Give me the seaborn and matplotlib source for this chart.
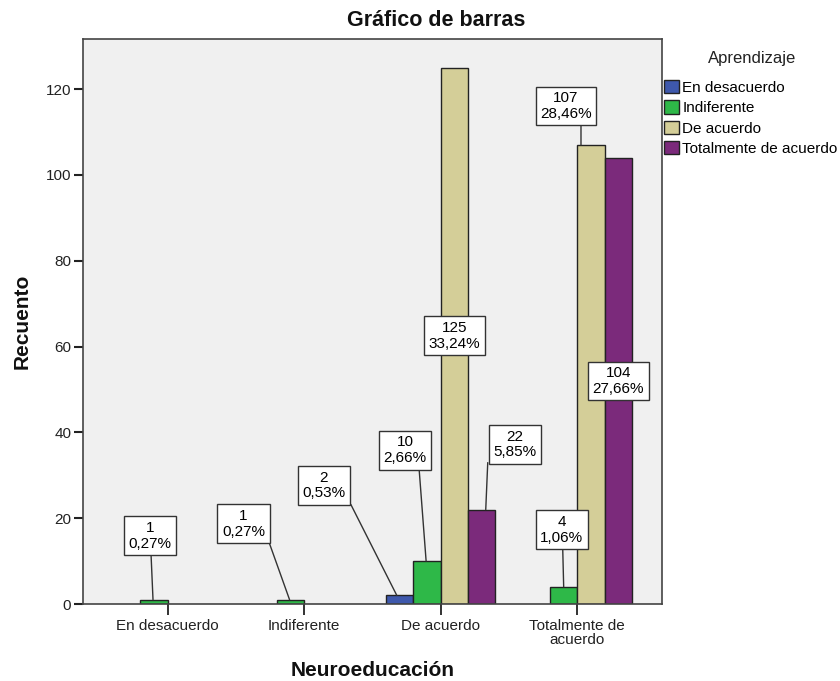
import matplotlib
matplotlib.use("Agg")
import matplotlib.pyplot as plt
import matplotlib.transforms as mtransforms
import seaborn as sns
import pandas as pd

# ---------------- data ----------------
categories = ["En desacuerdo", "Indiferente", "De acuerdo", "Totalmente de acuerdo"]
hue_levels = ["En desacuerdo", "Indiferente", "De acuerdo", "Totalmente de acuerdo"]
x_tick_labels = ["En desacuerdo", "Indiferente", "De acuerdo", "Totalmente de\nacuerdo"]

neuro = ["En desacuerdo", "Indiferente", "De acuerdo", "De acuerdo", "De acuerdo",
         "De acuerdo", "Totalmente de acuerdo", "Totalmente de acuerdo", "Totalmente de acuerdo"]
aprend = ["Indiferente", "Indiferente", "En desacuerdo", "Indiferente", "De acuerdo",
          "Totalmente de acuerdo", "Indiferente", "De acuerdo", "Totalmente de acuerdo"]
counts = [1, 1, 2, 10, 125, 22, 4, 107, 104]
y_ticks = [0, 20, 40, 60, 80, 100, 120]

# ---------------- style ----------------
colors = ["#3E58AC", "#2EB848", "#D4CE98", "#7B2A7B"]
W, H = 840, 681
# label layout in pixels relative to bar top centre:
# (box centre dx, dy, leader start dx, dy, leader end dx, dy) or "mid"
label_pos = {
    (0, 1): (-4, 64, -3, 46, -1, 0),
    (1, 1): (-47, 76, -21, 56, -1, 0),
    (2, 0): (-76, 110, -49, 91, -3, 0),
    (2, 1): (-22, 111, -8, 92, -1, 0),
    (2, 2): "mid",
    (2, 3): (33, 65, 6, 47, 4, 0),
    (3, 1): (-2, 57, -1, 40, 0, 0),
    (3, 2): (-25, 39, -10, 20, -10, 0),
    (3, 3): "mid",
}

plt.rcParams["font.family"] = ["Liberation Sans", "DejaVu Sans"]

df = pd.DataFrame({"Neuroeducación": neuro, "Aprendizaje": aprend, "Recuento": counts})
total = sum(counts)

fig = plt.figure(figsize=(W / 100, H / 100), dpi=100)
ax = fig.add_axes([83 / W, 77 / H, 579 / W, 565 / H])
ax.set_facecolor("#F0F0F0")

sns.barplot(data=df, x="Neuroeducación", y="Recuento", hue="Aprendizaje",
            order=categories, hue_order=hue_levels, palette=colors,
            errorbar=None, width=0.8, edgecolor="#222222", linewidth=1.0,
            saturation=1, ax=ax)

ax.set_xlim(-0.62, 3.62)
ax.set_ylim(0, 131.7)
ax.set_yticks(y_ticks)
ax.set_xticks(range(len(categories)))
ax.set_xticklabels(x_tick_labels, linespacing=0.95)
ax.set_xlabel("")
ax.set_ylabel("")
ax.tick_params(axis="x", length=8, width=1.3, pad=3, labelsize=11, colors="#222222")
ax.tick_params(axis="y", length=6.5, width=1.5, pad=2, labelsize=11, colors="#222222")
for s in ax.spines.values():
    s.set_color("#444444")
    s.set_linewidth(1.2)
ax.grid(False)

# value labels
bbox = dict(boxstyle="square,pad=0.3", fc="white", ec="#333333", lw=1.0)
for p in ax.patches:
    h = p.get_height()
    if h is None or h != h or h <= 0:
        continue
    cx = p.get_x() + p.get_width() / 2
    ci = int(round(cx))
    hi = int(round((cx - ci) / 0.2 + 1.5))
    txt = f"{int(round(h))}\n" + f"{h / total * 100:.2f}".replace(".", ",") + "%"
    pos = label_pos.get((ci, hi), (0, 50, 0, 30, 0, 0))
    if pos == "mid":
        ax.text(cx, h / 2, txt, ha="center", va="center", fontsize=11,
                linespacing=1.15, bbox=bbox, zorder=5)
        continue
    bx, by, sx, sy, ex, ey = pos
    end_tr = mtransforms.offset_copy(ax.transData, fig=fig, x=ex, y=ey, units="dots")
    ax.annotate("", xy=(cx, h), xycoords=end_tr,
                xytext=(sx - ex, sy - ey), textcoords="offset pixels",
                arrowprops=dict(arrowstyle="-", color="#333333", lw=1.0,
                                shrinkA=0, shrinkB=0), zorder=4)
    ax.annotate(txt, xy=(cx, h), xytext=(bx, by), textcoords="offset pixels",
                ha="center", va="center", fontsize=11, linespacing=1.15,
                bbox=bbox, zorder=5)

handles, labels = ax.get_legend_handles_labels()
ax.legend(handles, labels, loc="upper left",
          bbox_to_anchor=(664 / W, 1 - 80 / H), bbox_transform=fig.transFigure,
          frameon=False, fontsize=11, handlelength=0.95,
          handleheight=0.95, handletextpad=0.25, labelspacing=0.36,
          borderpad=0, borderaxespad=0)
fig.text(752 / W, 1 - 59 / H, "Aprendizaje", ha="center", va="center",
         fontsize=12, color="#222222")

fig.text(436 / W, 1 - 21 / H, "Gráfico de barras", ha="center", va="center",
         fontsize=15.5, fontweight="bold", color="#111111")
fig.text(22 / W, 1 - 321 / H, "Recuento", rotation=90, ha="center", va="center",
         fontsize=15, fontweight="bold", color="#111111")
fig.text(373 / W, 1 - 671 / H, "Neuroeducación", ha="center", va="center",
         fontsize=15, fontweight="bold", color="#111111")

fig.savefig("out.png", dpi=100, facecolor="white")
